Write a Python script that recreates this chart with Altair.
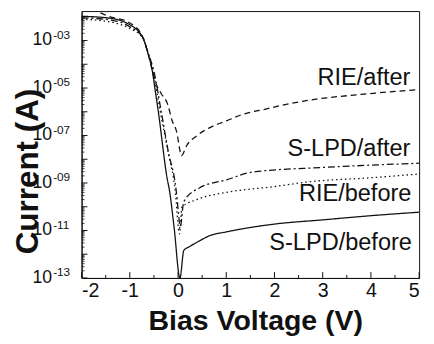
import altair as alt
import pandas as pd

# ---- data ----
series_names = ["S-LPD/before", "RIE/before", "S-LPD/after", "RIE/after"]

v_slpd_before = [-2.0, -1.45, -1.0, -0.73, -0.63, -0.53, -0.47, -0.41, -0.22, -0.18,
                 -0.08, 0.04, 0.12, 0.24, 0.45, 0.65, 1.0, 2.0, 3.0, 4.0, 5.0]
i_slpd_before = [1.05e-2, 8.9e-3, 4.6e-3, 1.3e-3, 3.2e-4, 4.8e-5, 7.1e-6, 1.05e-6, 1.35e-9, 5.2e-10,
                 1.26e-11, 1.0e-13, 1.45e-12, 2.1e-12, 3.7e-12, 6.0e-12, 8.7e-12, 1.86e-11, 2.8e-11, 4.2e-11, 5.9e-11]

v_rie_before = [-2.0, -1.45, -1.0, -0.73, -0.63, -0.53, -0.37, -0.2, -0.06, 0.03, 0.08,
                0.39, 1.0, 2.0, 2.71, 4.0, 5.0]
i_rie_before = [7.9e-3, 6.3e-3, 3.2e-3, 1.3e-3, 3.5e-4, 6.3e-5, 1.05e-6, 1.8e-8, 5.2e-10, 7.2e-12, 9.5e-11,
                2.0e-10, 4.0e-10, 7.1e-10, 1.12e-9, 1.66e-9, 2.4e-9]

v_slpd_after = [-2.0, -1.45, -1.0, -0.73, -0.63, -0.5, -0.35, -0.2, -0.04, 0.02, 0.04,
                0.12, 0.45, 1.0, 1.55, 3.0, 5.0]
i_slpd_after = [9.0e-3, 7.6e-3, 3.8e-3, 1.3e-3, 3.4e-4, 5.0e-5, 1.05e-6, 2.0e-8, 5.2e-10, 3.2e-11, 1.2e-11,
                1.66e-10, 6.3e-10, 1.35e-9, 2.9e-9, 4.5e-9, 6.8e-9]

v_rie_after = [-2.0, -1.8, -1.45, -1.0, -0.73, -0.63, -0.47, -0.35, -0.22, -0.12, -0.02, 0.04,
               0.07, 0.18, 0.39, 0.65, 1.0, 1.35, 1.82, 2.22, 2.69, 3.8, 5.0]
i_rie_after = [2.5e-2, 2.1e-2, 1.07e-2, 5.5e-3, 1.4e-3, 3.3e-4, 1.8e-5, 5.9e-6, 2.2e-6, 4.1e-7, 1.2e-7, 2.3e-8,
               1.4e-8, 3.8e-8, 9.8e-8, 2.1e-7, 4.1e-7, 7.9e-7, 1.3e-6, 2.0e-6, 3.0e-6, 5.4e-6, 8.5e-6]

label_text = ["RIE/after", "S-LPD/after", "RIE/before", "S-LPD/before"]
label_v = [4.82, 4.82, 4.84, 4.85]
label_i = [2.7e-5, 2.6e-8, 3.4e-10, 2.95e-12]

x_tick_values = [-2, -1, 0, 1, 2, 3, 4, 5]
x_minor_values = [-1.5, -0.5, 0.5, 1.5, 2.5, 3.5, 4.5]
y_label_values = [1e-3, 1e-5, 1e-7, 1e-9, 1e-11, 1e-13]
y_label_base = ["10"] * 6
y_label_exp = ["-03", "-05", "-07", "-09", "-11", "-13"]
y_major_values = [10.0 ** e for e in range(-13, -1)]
y_minor_values = [m * 10.0 ** e for e in range(-13, -2) for m in range(2, 10)]

# ---- tables ----
rows = []
for name, vs, cs in [
    ("S-LPD/before", v_slpd_before, i_slpd_before),
    ("RIE/before", v_rie_before, i_rie_before),
    ("S-LPD/after", v_slpd_after, i_slpd_after),
    ("RIE/after", v_rie_after, i_rie_after),
]:
    for v, c in zip(vs, cs):
        rows.append({"V": v, "I": c, "series": name})
df = pd.DataFrame(rows)
labels_df = pd.DataFrame({"V": label_v, "I": label_i, "text": label_text})
xt_df = pd.DataFrame({"V": x_tick_values})
xm_df = pd.DataFrame({"V": x_minor_values})
yl_df = pd.DataFrame({"I": y_label_values, "base": y_label_base, "exp": y_label_exp})
ymaj_df = pd.DataFrame({"I": y_major_values})
ymin_df = pd.DataFrame({"I": y_minor_values})

FONT = "Liberation Sans"
INK = "#111111"

xscale = alt.Scale(domain=[-2, 5], nice=False, zero=False)
yscale = alt.Scale(type="log", domain=[1e-13, 1.74e-2], nice=False)

xaxis = alt.Axis(
    values=x_tick_values, labelExpr="'' + datum.value", ticks=False, grid=False,
    labelFont=FONT, labelFontSize=20, labelColor=INK, labelPadding=3,
    domainColor=INK, title="Bias Voltage (V)", titleFont=FONT, titleFontSize=29,
    titleFontWeight="bold", titleColor=INK, titleX=177, titleY=53,
    titleBaseline="alphabetic", titleAlign="center",
)
yaxis = alt.Axis(
    labels=False, ticks=False, grid=False, domainColor=INK,
    title="Current (A)", titleFont=FONT, titleFontSize=32, titleFontWeight="bold",
    titleColor=INK, titleX=-45, titleY=163, titleBaseline="alphabetic", titleAlign="center",
)

lines = alt.Chart(df).mark_line(strokeWidth=1.3, color=INK, interpolate="monotone", clip=True).encode(
    x=alt.X("V:Q", scale=xscale, axis=xaxis),
    y=alt.Y("I:Q", scale=yscale, axis=yaxis),
    strokeDash=alt.StrokeDash(
        "series:N",
        scale=alt.Scale(domain=series_names, range=[[1, 0], [1.5, 3], [7, 3, 2, 3], [6, 4]]),
        legend=None,
    ),
    detail="series:N",
)

curve_labels = alt.Chart(labels_df).mark_text(
    align="right", baseline="middle", font=FONT, fontSize=24, color=INK
).encode(x="V:Q", y="I:Q", text="text:N")

xticks = alt.Chart(xt_df).mark_rule(color=INK, strokeWidth=1).encode(
    x="V:Q", y=alt.value(272), y2=alt.value(266)
)
xminor = alt.Chart(xm_df).mark_rule(color=INK, strokeWidth=1).encode(
    x="V:Q", y=alt.value(272), y2=alt.value(269)
)
ymaj = alt.Chart(ymaj_df).mark_rule(color=INK, strokeWidth=1).encode(
    y="I:Q", x=alt.value(0), x2=alt.value(6)
)
ymin = alt.Chart(ymin_df).mark_rule(color=INK, strokeWidth=0.8).encode(
    y="I:Q", x=alt.value(0), x2=alt.value(3)
)
ybase = alt.Chart(yl_df).mark_text(
    align="right", baseline="middle", font=FONT, fontSize=18, color=INK
).encode(y="I:Q", x=alt.value(-30), text="base:N")
yexp = alt.Chart(yl_df).mark_text(
    align="left", baseline="middle", font=FONT, fontSize=12, color=INK, dy=-6, dx=1
).encode(y="I:Q", x=alt.value(-30), text="exp:N")

chart = alt.layer(lines, xticks, xminor, ymaj, ymin, ybase, yexp, curve_labels).properties(
    width=344, height=272,
    autosize=alt.AutoSizeParams(type="none"),
    padding={"left": 75, "top": 0, "right": 7, "bottom": 56},
    background="white",
).configure_view(stroke=INK, strokeWidth=1)

chart.save("out.html", embed_options={"renderer": "svg", "actions": False})
